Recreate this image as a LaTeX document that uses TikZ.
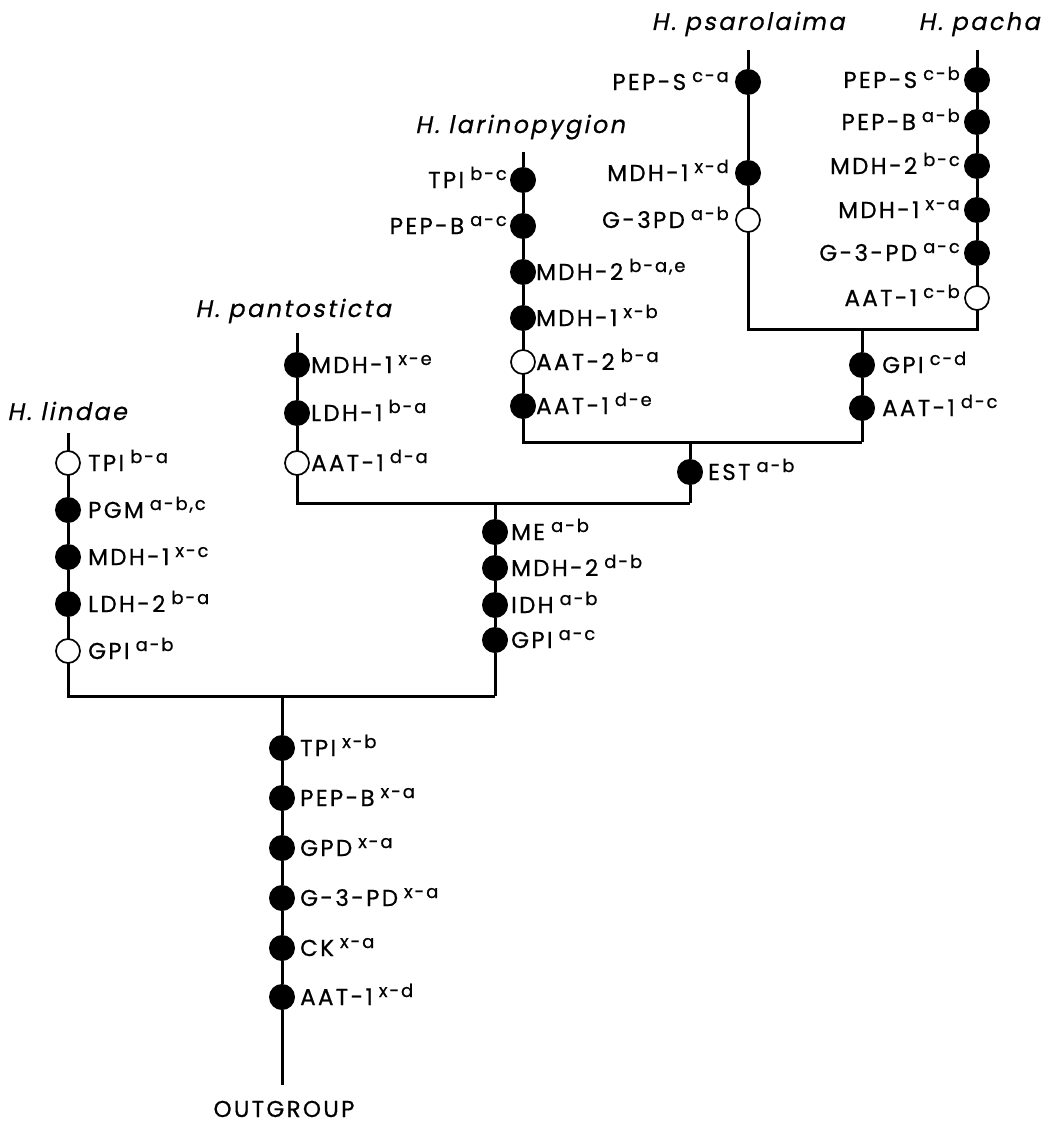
\documentclass[tikz,border=0pt]{standalone}
\usepackage{fontspec}
\setmainfont{Poppins}
\newfontfamily\lblfont[LetterSpace=10,FakeBold=0.6]{Poppins}
\newfontfamily\spfont[LetterSpace=10,FakeSlant=0.2,FakeBold=0.6]{Poppins}
\usetikzlibrary{calc}
\pgfdeclarelayer{bg}
\pgfsetlayers{bg,main}
\newcommand{\al}[2]{#1\hspace{6pt}\raisebox{8pt}{\fontsize{18}{18}\selectfont #2}}
\tikzset{
  fil/.style={circle, fill=black, minimum size=26pt, inner sep=0pt, outer sep=0pt},
  opn/.style={circle, draw=black, line width=1.7pt, fill=white, minimum size=24pt, inner sep=0pt, outer sep=0pt},
  br/.style={line width=3pt, line join=miter},
  lab/.style={font=\lblfont\fontsize{23}{23}\selectfont, inner sep=0pt},
  rl/.style={lab, anchor=base west},
  ll/.style={lab, anchor=base east},
  sp/.style={font=\spfont\fontsize{24}{24}\selectfont, inner sep=0pt, anchor=base},
}
\begin{document}
\begin{tikzpicture}[x=1pt,y=-1pt]
\begin{pgfonlayer}{bg}
\fill[white] (0,0) rectangle (1055,1124);
\end{pgfonlayer}
\useasboundingbox (0,0) rectangle (1055,1124);

% ---- species labels
\node[sp] (nPs) at (748,30) {H. psarolaima};
\node[sp] (nPa) at (979,30) {H. pacha};
\node[sp] (nLa) at (520,133) {H. larinopygion};
\node[sp] (nPt) at (293,317) {H. pantosticta};
\node[sp] (nLi) at (67,420) {H. lindae};
\node[lab, anchor=base] (nOut) at (284,1117) {OUTGROUP};

% ---- H. psarolaima (x=748)
\coordinate (psT) at (748,50);
\node[fil] (ps1) at (748,82) {};
\node[fil] (ps2) at (748,173) {};
\node[opn] (ps3) at (748,220) {};
\coordinate (psB) at (748,329);
\node[ll] at ($(ps1)+(-19,8)$) {\al{PEP-S}{c-a}};
\node[ll] at ($(ps2)+(-19,8)$) {\al{MDH-1}{x-d}};
\node[ll] at ($(ps3)+(-19,8)$) {\al{G-3PD}{a-b}};

% ---- H. pacha (x=977)
\coordinate (paT) at (977,50);
\node[fil] (pa1) at (977,80) {};
\node[fil] (pa2) at (977,122) {};
\node[fil] (pa3) at (977,166) {};
\node[fil] (pa4) at (977,210) {};
\node[fil] (pa5) at (977,253) {};
\node[opn] (pa6) at (977,298) {};
\coordinate (paB) at (977,329);
\node[ll] at ($(pa1)+(-17,8)$) {\al{PEP-S}{c-b}};
\node[ll] at ($(pa2)+(-17,8)$) {\al{PEP-B}{a-b}};
\node[ll] at ($(pa3)+(-17,8)$) {\al{MDH-2}{b-c}};
\node[ll] at ($(pa4)+(-17,8)$) {\al{MDH-1}{x-a}};
\node[ll] at ($(pa5)+(-17,8)$) {\al{G-3-PD}{a-c}};
\node[ll] at ($(pa6)+(-17,8)$) {\al{AAT-1}{c-b}};

% ---- stem to psarolaima + pacha (x=862)
\coordinate (j1) at (862,329);
\node[fil] (g1) at (862,365) {};
\node[fil] (g2) at (862,408) {};
\coordinate (j2) at (862,442);
\node[rl] at ($(g1)+(20,8)$) {\al{GPI}{c-d}};
\node[rl] at ($(g2)+(20,8)$) {\al{AAT-1}{d-c}};

% ---- H. larinopygion (x=523)
\coordinate (laT) at (523,152);
\node[fil] (la1) at (523,180) {};
\node[fil] (la2) at (523,226) {};
\node[fil] (la3) at (523,272) {};
\node[fil] (la4) at (523,318) {};
\node[opn] (la5) at (523,362) {};
\node[fil] (la6) at (523,406) {};
\coordinate (laB) at (523,442);
\node[ll] at ($(la1)+(-16,8)$) {\al{TPI}{b-c}};
\node[ll] at ($(la2)+(-16,8)$) {\al{PEP-B}{a-c}};
\node[rl] at ($(la3)+(13,8)$) {\al{MDH-2}{b-a,e}};
\node[rl] at ($(la4)+(13,8)$) {\al{MDH-1}{x-b}};
\node[rl] at ($(la5)+(13,8)$) {\al{AAT-2}{b-a}};
\node[rl] at ($(la6)+(13,8)$) {\al{AAT-1}{d-e}};

% ---- EST stem (x=690)
\coordinate (j3) at (690,442);
\node[fil] (es) at (690,472) {};
\coordinate (j4) at (690,503);
\node[rl] at ($(es)+(18,8)$) {\al{EST}{a-b}};

% ---- H. pantosticta (x=297)
\coordinate (ptT) at (297,333);
\node[fil] (pt1) at (297,365) {};
\node[fil] (pt2) at (297,413) {};
\node[opn] (pt3) at (297,463) {};
\coordinate (ptB) at (297,503);
\node[rl] at ($(pt1)+(14,8)$) {\al{MDH-1}{x-e}};
\node[rl] at ($(pt2)+(14,8)$) {\al{LDH-1}{b-a}};
\node[rl] at ($(pt3)+(14,8)$) {\al{AAT-1}{d-a}};

% ---- ME stem (x=495)
\coordinate (j5) at (495,503);
\node[fil] (m1) at (495,532) {};
\node[fil] (m2) at (495,568) {};
\node[fil] (m3) at (495,605) {};
\node[fil] (m4) at (495,640) {};
\coordinate (j6) at (495,696);
\node[rl] at ($(m1)+(16,8)$) {\al{ME}{a-b}};
\node[rl] at ($(m2)+(16,8)$) {\al{MDH-2}{d-b}};
\node[rl] at ($(m3)+(16,8)$) {\al{IDH}{a-b}};
\node[rl] at ($(m4)+(16,8)$) {\al{GPI}{a-c}};

% ---- H. lindae (x=68)
\coordinate (liT) at (68,433);
\node[opn] (li1) at (68,463) {};
\node[fil] (li2) at (68,510) {};
\node[fil] (li3) at (68,557) {};
\node[fil] (li4) at (68,604) {};
\node[opn] (li5) at (68,651) {};
\coordinate (liB) at (68,696);
\node[rl] at ($(li1)+(20,8)$) {\al{TPI}{b-a}};
\node[rl] at ($(li2)+(20,8)$) {\al{PGM}{a-b,c}};
\node[rl] at ($(li3)+(20,8)$) {\al{MDH-1}{x-c}};
\node[rl] at ($(li4)+(20,8)$) {\al{LDH-2}{b-a}};
\node[rl] at ($(li5)+(20,8)$) {\al{GPI}{a-b}};

% ---- outgroup stem (x=282)
\coordinate (j7) at (282,696);
\node[fil] (o1) at (282,748) {};
\node[fil] (o2) at (282,798) {};
\node[fil] (o3) at (282,848) {};
\node[fil] (o4) at (282,898) {};
\node[fil] (o5) at (282,948) {};
\node[fil] (o6) at (282,997) {};
\coordinate (oB) at (282,1085);
\node[rl] at ($(o1)+(18,8)$) {\al{TPI}{x-b}};
\node[rl] at ($(o2)+(18,8)$) {\al{PEP-B}{x-a}};
\node[rl] at ($(o3)+(18,8)$) {\al{GPD}{x-a}};
\node[rl] at ($(o4)+(18,8)$) {\al{G-3-PD}{x-a}};
\node[rl] at ($(o5)+(18,8)$) {\al{CK}{x-a}};
\node[rl] at ($(o6)+(18,8)$) {\al{AAT-1}{x-d}};

% ---- branches
\begin{pgfonlayer}{bg}
\draw[br] (psT) -- (ps1) -- (ps2) -- (ps3) -- (psB) -- (paB) -- (pa6) -- (pa5) -- (pa4) -- (pa3) -- (pa2) -- (pa1) -- (paT);
\draw[br] (j1) -- (g1) -- (g2) -- (j2);
\draw[br] (laT) -- (la1) -- (la2) -- (la3) -- (la4) -- (la5) -- (la6) -- (laB) -- (j2);
\draw[br] (j3) -- (es) -- (j4);
\draw[br] (ptT) -- (pt1) -- (pt2) -- (pt3) -- (ptB) -- (j4);
\draw[br] (j5) -- (m1) -- (m2) -- (m3) -- (m4) -- (j6);
\draw[br] (liT) -- (li1) -- (li2) -- (li3) -- (li4) -- (li5) -- (liB) -- (j6);
\draw[br] (j7) -- (o1) -- (o2) -- (o3) -- (o4) -- (o5) -- (o6) -- (oB);
\end{pgfonlayer}
\end{tikzpicture}
\end{document}
